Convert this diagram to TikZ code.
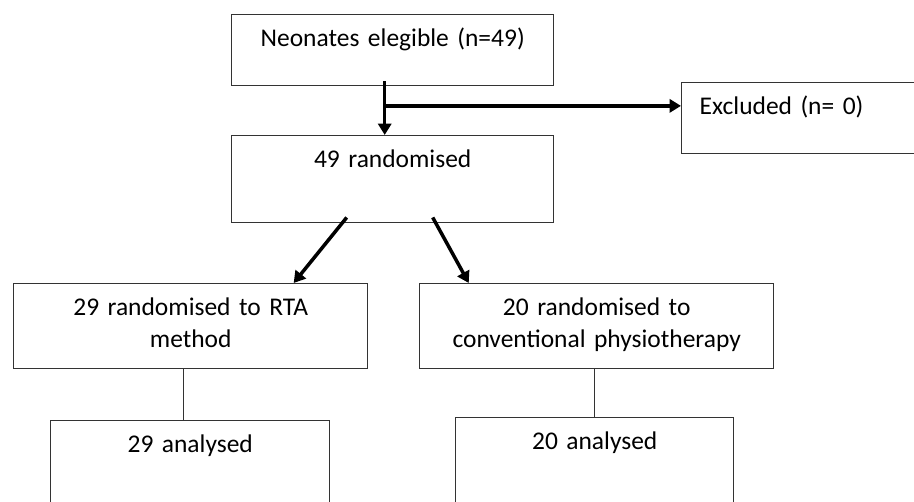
\documentclass[tikz,border=0pt]{standalone}
\usepackage{fontspec}
\setmainfont{Carlito}
\usetikzlibrary{arrows.meta, positioning, calc}
\definecolor{boxGrey}{HTML}{333333}
\tikzset{
    flowBox/.style={draw=boxGrey, line width=0.85pt, inner xsep=0pt, inner ysep=0pt,
        align=center, anchor=north west, text height=0.64cm,
        font=\fontsize{14.5}{18}\selectfont},
    thickArrow/.style={line width=2pt, -{Triangle[length=6.5pt, width=7.5pt]}},
    thinLink/.style={line width=0.75pt, boxGrey}
}

\begin{document}
\begin{tikzpicture}[x=0.02cm, y=-0.02cm]
    \clip (0,0) rectangle (914,502);

    % Enrolment
    \node[flowBox, text width=6.44cm, text depth=0.78cm] (elig) at (231,14) {Neonates elegible (n=49)};
    \node[flowBox, text width=6.44cm, text depth=1.10cm] (rand) at (231,135) {49 randomised};
    \node[flowBox, align=left, inner xsep=0.36cm, text width=4.6cm, text depth=0.78cm] (excl) at (681,82) {Excluded (n= 0)};

    % Allocation
    \node[flowBox, text width=7.08cm, text depth=1.06cm] (rta) at (13,283) {29 randomised to RTA\\method};
    \node[flowBox, text width=7.08cm, text depth=1.06cm] (conv) at (419,283) {20 randomised to\\conventional physiotherapy};

    % Analysis
    \node[flowBox, text width=5.58cm, text depth=1.76cm] (rtaAn) at (50,420) {29 analysed};
    \node[flowBox, text width=5.56cm, text depth=1.76cm] (convAn) at (455,417) {20 analysed};

    % Arrows
    \coordinate (split) at ($([xshift=-0.16cm]elig.south)!0.4!([xshift=-0.16cm]rand.north)$);
    \draw[thickArrow] ([xshift=-0.16cm, yshift=0.1cm]elig.south) -- ([xshift=-0.16cm]rand.north);
    \draw[thickArrow, line width=2.6pt] (split) -- (split -| excl.west);
    \draw[thickArrow] ([xshift=-0.92cm, yshift=0.12cm]rand.south) -- ([xshift=2.06cm]rta.north);
    \draw[thickArrow] ([xshift=0.8cm, yshift=0.12cm]rand.south) -- ([xshift=-2.56cm]conv.north);

    % Links
    \draw[thinLink] ([xshift=-0.14cm]rta.south) -- ([xshift=-0.14cm]rta.south |- rtaAn.north);
    \draw[thinLink] (conv.south -| convAn.north) -- (convAn.north);
\end{tikzpicture}
\end{document}
